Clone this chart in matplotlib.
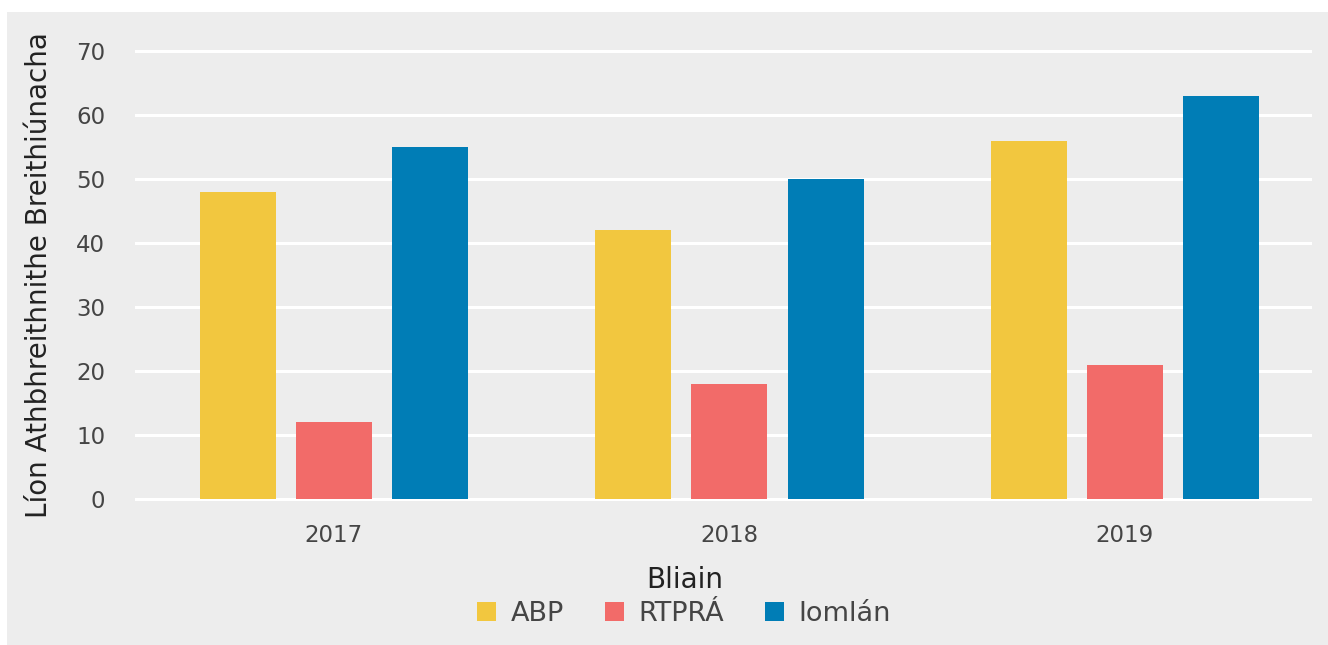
import matplotlib
matplotlib.use("Agg")
import matplotlib.pyplot as plt
from matplotlib.patches import Rectangle, Patch
import numpy as np

years = ["2017", "2018", "2019"]
series_names = ["ABP", "RTPRÁ", "Iomlán"]
abp = [48, 42, 56]
rtpra = [12, 18, 21]
iomlan = [55, 50, 63]
colors = ["#F2C73F", "#F26B69", "#007DB6"]
y_ticks = [0, 10, 20, 30, 40, 50, 60, 70]

W, H = 1328, 645
plt.rcParams["font.family"] = ["DejaVu Sans"]
text_color = "#454545"

fig = plt.figure(figsize=(W / 100, H / 100), dpi=100, facecolor="white")
fig.patches.append(Rectangle((7 / W, 0), 1 - 7 / W, 1 - 12 / H,
                             transform=fig.transFigure, facecolor="#EDEDED",
                             edgecolor="none", zorder=-10))

left, right = 135 / W, 1312 / W
bottom, top = 1 - 502.2 / H, 1 - 44.6 / H
ax = fig.add_axes([left, bottom, right - left, top - bottom])
ax.set_facecolor("#EDEDED")

x = np.arange(len(years))
width = 0.192
step = 0.243
for i, (vals, c, name) in enumerate(zip([abp, rtpra, iomlan], colors, series_names)):
    ax.bar(x + (i - 1) * step, vals, width=width, color=c, label=name, zorder=3)

ax.set_xlim(-0.503, 2.473)
ax.set_ylim(-0.5, 71)
ax.set_yticks(y_ticks)
ax.set_xticks(x)
ax.set_xticklabels(years)
ax.grid(axis="y", color="white", linewidth=2.2, zorder=1)
ax.grid(axis="x", visible=False)
ax.set_axisbelow(True)
for s in ax.spines.values():
    s.set_visible(False)
ax.tick_params(axis="both", length=0, labelsize=16.5, colors=text_color)
ax.tick_params(axis="y", pad=21.5)
ax.tick_params(axis="x", pad=16)

fig.text(39 / W, 1 - 275 / H, "Líon Athbhreithnithe Breithiúnacha", rotation=90,
         ha="center", va="center", fontsize=20, color="#222222")

fig.text(685 / W, 1 - 580 / H, "Bliain", ha="center", va="center",
         fontsize=20, color="#222222")

handles = [Patch(facecolor=c, edgecolor="none") for c in colors]
leg = fig.legend(handles, series_names, loc="center", ncol=3,
                 bbox_to_anchor=(684 / W, 1 - 614 / H), frameon=False,
                 fontsize=19.5, handlelength=0.7, handleheight=0.7,
                 handletextpad=0.55, columnspacing=1.5)
for t in leg.get_texts():
    t.set_color(text_color)

fig.savefig("out.png", dpi=100, facecolor="white")
